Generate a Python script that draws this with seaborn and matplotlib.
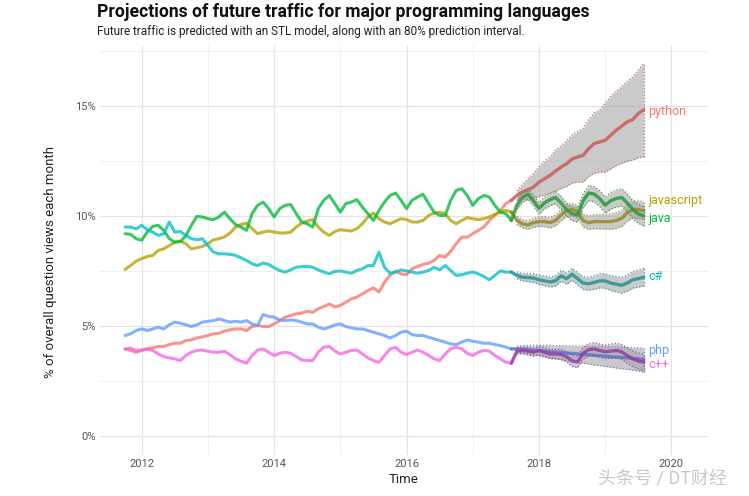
import numpy as np
import pandas as pd
import matplotlib
matplotlib.use("Agg")
import matplotlib.pyplot as plt
import seaborn as sns
from matplotlib.ticker import FuncFormatter, MultipleLocator

# observed monthly share (%), Oct 2011 .. Aug 2017
python_obs = [3.95, 3.88, 3.80, 3.88, 3.95, 4.00, 4.06, 4.06, 4.15, 4.21, 4.21, 4.33, 4.36, 4.45, 4.50, 4.56,
              4.64, 4.66, 4.76, 4.82, 4.86, 4.86, 4.79, 4.97, 5.02, 4.97, 4.97, 5.09, 5.24, 5.40, 5.47, 5.55,
              5.58, 5.66, 5.62, 5.78, 5.88, 6.00, 5.86, 5.93, 6.08, 6.23, 6.31, 6.46, 6.61, 6.73, 6.54, 6.99,
              7.30, 7.50, 7.37, 7.33, 7.60, 7.70, 7.80, 7.86, 7.98, 8.21, 8.13, 8.40, 8.74, 9.04, 9.04, 9.20,
              9.35, 9.50, 9.80, 10.03, 10.26, 10.57, 10.72]
javascript_obs = [7.57, 7.75, 7.95, 8.06, 8.16, 8.21, 8.44, 8.51, 8.66, 8.81, 8.86, 8.74, 8.51, 8.56, 8.62, 8.74,
                  8.92, 8.97, 9.05, 9.23, 9.50, 9.62, 9.68, 9.43, 9.20, 9.27, 9.32, 9.27, 9.23, 9.23, 9.27, 9.50,
                  9.68, 9.77, 9.84, 9.50, 9.27, 9.12, 9.30, 9.38, 9.35, 9.32, 9.43, 9.65, 9.96, 10.14, 9.88, 9.73,
                  9.65, 9.77, 9.88, 9.84, 9.73, 9.73, 9.80, 10.03, 10.14, 10.18, 10.11, 9.80, 9.65, 9.80, 9.93,
                  9.88, 9.84, 9.88, 9.96, 10.08, 10.18, 10.26, 10.18]
java_obs = [9.20, 9.17, 8.97, 8.90, 9.27, 9.53, 9.58, 9.35, 8.97, 8.81, 8.84, 9.10, 9.58, 9.99, 9.96, 9.88,
            9.84, 9.96, 10.18, 9.88, 9.62, 9.50, 9.35, 10.11, 10.49, 10.64, 10.34, 9.96, 10.34, 10.49, 10.53,
            10.11, 9.73, 9.65, 9.50, 10.34, 10.72, 10.94, 10.57, 10.18, 10.57, 10.64, 10.75, 10.41, 10.11, 9.80,
            10.26, 10.64, 10.94, 11.05, 10.72, 10.34, 10.72, 10.87, 10.99, 10.57, 10.18, 10.03, 10.03, 10.72,
            11.17, 11.25, 10.94, 10.49, 10.79, 10.94, 10.87, 10.49, 10.18, 10.11, 9.80]
csharp_obs = [9.50, 9.50, 9.42, 9.58, 9.38, 9.27, 9.12, 9.20, 9.73, 9.27, 9.30, 9.12, 8.97, 8.92, 8.97, 8.66,
              8.36, 8.28, 8.28, 8.26, 8.21, 8.10, 7.98, 7.83, 7.75, 7.86, 7.80, 7.65, 7.52, 7.45, 7.55, 7.67,
              7.70, 7.71, 7.67, 7.55, 7.45, 7.37, 7.48, 7.50, 7.45, 7.40, 7.52, 7.60, 7.75, 7.75, 8.36, 7.67,
              7.40, 7.45, 7.55, 7.50, 7.45, 7.40, 7.45, 7.52, 7.67, 7.55, 7.75, 7.52, 7.30, 7.33, 7.40, 7.45,
              7.37, 7.25, 7.10, 7.30, 7.50, 7.45, 7.45]
php_obs = [4.56, 4.64, 4.79, 4.86, 4.79, 4.86, 4.94, 4.86, 5.05, 5.17, 5.12, 5.05, 4.97, 5.05, 5.17, 5.21,
           5.24, 5.32, 5.24, 5.17, 5.21, 5.17, 5.24, 5.09, 5.02, 5.52, 5.43, 5.40, 5.27, 5.24, 5.27, 5.24,
           5.17, 5.09, 5.09, 4.94, 4.86, 4.94, 5.04, 5.09, 4.97, 4.91, 4.86, 4.86, 4.79, 4.71, 4.64, 4.56,
           4.45, 4.56, 4.71, 4.76, 4.60, 4.56, 4.56, 4.48, 4.41, 4.33, 4.26, 4.18, 4.15, 4.26, 4.36, 4.30,
           4.26, 4.21, 4.21, 4.15, 4.10, 4.03, 3.95]
cpp_obs = [3.95, 3.98, 3.88, 3.90, 3.95, 3.88, 3.72, 3.60, 3.54, 3.50, 3.42, 3.65, 3.80, 3.88, 3.90, 3.84,
           3.80, 3.80, 3.84, 3.69, 3.50, 3.39, 3.30, 3.65, 3.90, 3.95, 3.80, 3.65, 3.75, 3.80, 3.75, 3.60,
           3.45, 3.42, 3.42, 3.80, 4.03, 4.06, 3.86, 3.72, 3.80, 3.88, 3.90, 3.72, 3.54, 3.42, 3.34, 3.65,
           3.95, 4.03, 3.80, 3.69, 3.80, 3.90, 3.80, 3.65, 3.50, 3.42, 3.72, 3.95, 4.03, 3.95, 3.75, 3.65,
           3.80, 3.88, 3.85, 3.65, 3.50, 3.34, 3.30]

# STL forecasts (24 months) with 80% interval
python_fc = [10.94, 11.10, 11.20, 11.32, 11.55, 11.70, 11.85, 12.05, 12.23, 12.38, 12.60, 12.69,
             12.77, 13.07, 13.30, 13.38, 13.45, 13.68, 13.91, 14.10, 14.29, 14.40, 14.67, 14.85]
python_lo = [10.75, 10.80, 10.75, 10.80, 10.90, 10.95, 11.05, 11.15, 11.25, 11.35, 11.50, 11.55,
             11.55, 11.80, 11.95, 12.00, 12.00, 12.15, 12.30, 12.40, 12.50, 12.55, 12.65, 12.70]
python_hi = [11.15, 11.45, 11.70, 11.95, 12.25, 12.50, 12.70, 13.00, 13.20, 13.45, 13.70, 13.85,
             14.00, 14.40, 14.70, 14.85, 15.15, 15.45, 15.70, 15.90, 16.15, 16.35, 16.65, 16.95]
javascript_fc = [9.80, 9.65, 9.60, 9.70, 9.75, 9.75, 9.70, 9.80, 10.05, 10.25, 10.30, 10.20,
                 9.80, 9.70, 9.75, 9.75, 9.75, 9.75, 9.80, 9.90, 10.15, 10.30, 10.30, 10.25]
javascript_lo = [9.62, 9.46, 9.40, 9.49, 9.53, 9.52, 9.46, 9.55, 9.79, 9.98, 10.02, 9.91,
                 9.50, 9.39, 9.43, 9.42, 9.41, 9.40, 9.44, 9.53, 9.77, 9.91, 9.90, 9.84]
javascript_hi = [9.98, 9.84, 9.80, 9.91, 9.97, 9.98, 9.94, 10.05, 10.31, 10.52, 10.58, 10.49,
                 10.10, 10.01, 10.07, 10.08, 10.09, 10.10, 10.16, 10.27, 10.53, 10.69, 10.70, 10.66]
java_fc = [10.50, 10.85, 11.00, 10.70, 10.35, 10.60, 10.75, 10.85, 10.60, 10.30, 10.10, 10.05,
           10.70, 11.05, 11.00, 10.80, 10.50, 10.70, 10.80, 10.85, 10.60, 10.30, 10.10, 10.00]
java_lo = [10.30, 10.62, 10.76, 10.45, 10.09, 10.33, 10.47, 10.56, 10.30, 10.00, 9.79, 9.73,
           10.37, 10.71, 10.65, 10.44, 10.13, 10.32, 10.41, 10.45, 10.19, 9.88, 9.67, 9.56]
java_hi = [10.70, 11.08, 11.24, 10.95, 10.61, 10.87, 11.03, 11.14, 10.90, 10.60, 10.41, 10.37,
           11.03, 11.39, 11.35, 11.16, 10.87, 11.08, 11.19, 11.25, 11.01, 10.72, 10.53, 10.44]
csharp_fc = [7.30, 7.22, 7.20, 7.18, 7.10, 7.05, 7.00, 7.05, 7.28, 7.15, 7.35, 7.15,
             6.95, 6.92, 6.98, 7.05, 7.05, 6.95, 6.90, 6.85, 6.95, 7.10, 7.15, 7.22]
csharp_lo = [7.15, 7.05, 7.02, 6.98, 6.89, 6.83, 6.77, 6.81, 7.03, 6.89, 7.08, 6.87,
             6.66, 6.62, 6.67, 6.73, 6.72, 6.61, 6.55, 6.49, 6.58, 6.72, 6.76, 6.82]
csharp_hi = [7.45, 7.39, 7.38, 7.38, 7.31, 7.27, 7.23, 7.29, 7.53, 7.41, 7.62, 7.43,
             7.24, 7.22, 7.29, 7.37, 7.38, 7.29, 7.25, 7.21, 7.32, 7.48, 7.54, 7.62]
php_fc = [3.95, 3.93, 3.91, 3.89, 3.88, 3.85, 3.83, 3.81, 3.78, 3.76, 3.75, 3.72,
          3.70, 3.69, 3.66, 3.64, 3.62, 3.60, 3.58, 3.56, 3.55, 3.52, 3.50, 3.47]
php_lo = [3.82, 3.77, 3.72, 3.68, 3.64, 3.59, 3.55, 3.51, 3.46, 3.42, 3.39, 3.34,
          3.30, 3.27, 3.22, 3.19, 3.15, 3.12, 3.08, 3.05, 3.02, 2.98, 2.95, 2.90]
php_hi = [4.08, 4.10, 4.11, 4.12, 4.12, 4.11, 4.11, 4.10, 4.10, 4.09, 4.09, 4.08,
          4.08, 4.07, 4.06, 4.06, 4.05, 4.04, 4.04, 4.03, 4.02, 4.01, 4.00, 3.98]
cpp_fc = [3.85, 3.88, 3.85, 3.80, 3.88, 3.80, 3.72, 3.72, 3.70, 3.60, 3.40, 3.36,
          3.75, 3.92, 3.95, 3.88, 3.82, 3.85, 3.88, 3.82, 3.65, 3.50, 3.40, 3.35]
cpp_lo = [3.72, 3.73, 3.68, 3.62, 3.69, 3.60, 3.51, 3.50, 3.47, 3.36, 3.15, 3.10,
          3.48, 3.64, 3.66, 3.58, 3.51, 3.53, 3.55, 3.48, 3.30, 3.14, 3.03, 2.97]
cpp_hi = [3.98, 4.03, 4.02, 3.98, 4.07, 4.00, 3.93, 3.94, 3.93, 3.84, 3.65, 3.62,
          4.02, 4.20, 4.24, 4.18, 4.13, 4.17, 4.21, 4.16, 4.00, 3.86, 3.77, 3.73]

languages = ["python", "javascript", "java", "c#", "php", "c++"]
obs = [python_obs, javascript_obs, java_obs, csharp_obs, php_obs, cpp_obs]
fc = [python_fc, javascript_fc, java_fc, csharp_fc, php_fc, cpp_fc]
lo = [python_lo, javascript_lo, java_lo, csharp_lo, php_lo, cpp_lo]
hi = [python_hi, javascript_hi, java_hi, csharp_hi, php_hi, cpp_hi]

colors = ["#F8766D", "#B79F00", "#00BA38", "#00BFC4", "#619CFF", "#F564E3"]
dark = ["#C8605A", "#9C8A2E", "#2E9A42", "#2A9496", "#5C78C8", "#9A3FA8"]
label_y = [14.78, 10.70, 9.90, 7.25, 3.88, 3.22]

obs_dates = pd.date_range("2011-10-01", periods=len(python_obs), freq="MS")
fc_dates = pd.date_range("2017-09-01", periods=len(python_fc), freq="MS")


def dec_year(d):
    return d.year + (d.month - 1) / 12.0


t_obs = dec_year(obs_dates)
t_fc = dec_year(fc_dates)

df_obs = pd.concat([pd.DataFrame({"year": t_obs, "pct": v, "language": n})
                    for n, v in zip(languages, obs)], ignore_index=True)
# forecast line starts from the last observed point so the curve is continuous
df_fc = pd.concat([pd.DataFrame({"year": np.r_[t_obs[-1], t_fc], "pct": np.r_[o[-1], f], "language": n})
                   for n, o, f in zip(languages, obs, fc)], ignore_index=True)

sns.set_theme(style="whitegrid")
plt.rcParams["font.family"] = ["Roboto", "Noto Sans CJK SC", "DejaVu Sans"]

fig = plt.figure(figsize=(7.49, 4.96), dpi=100)
ax = fig.add_axes([0.1335, 0.0827, 0.8115, 0.826])

sns.lineplot(data=df_obs, x="year", y="pct", hue="language", palette=dict(zip(languages, colors)),
             lw=2.2, alpha=0.78, legend=False, ax=ax, zorder=3)

for i, n in enumerate(languages):
    ax.fill_between(t_fc, lo[i], hi[i], color="#A8A8A8", alpha=0.6, lw=0, zorder=4)

sns.lineplot(data=df_fc, x="year", y="pct", hue="language", palette=dict(zip(languages, dark)),
             lw=2.4, alpha=0.88, legend=False, ax=ax, zorder=5)

for i, n in enumerate(languages):
    for edge in (lo[i], hi[i]):
        ax.plot(t_fc, edge, ls=(0, (1, 1.6)), lw=0.9, color=dark[i], alpha=0.9, zorder=6)
    ax.plot([t_fc[-1], t_fc[-1]], [lo[i][-1], hi[i][-1]], ls=(0, (1, 1.6)), lw=0.9,
            color=dark[i], alpha=0.9, zorder=6)
    ax.text(t_fc[-1] + 0.07, label_y[i], n, color=colors[i], fontsize=9,
            va="center", ha="left", zorder=7)

ax.set_xlim(2011.37, 2020.55)
ax.set_ylim(-0.88, 17.78)
ax.xaxis.set_major_locator(MultipleLocator(2))
ax.xaxis.set_minor_locator(MultipleLocator(1))
ax.yaxis.set_major_locator(MultipleLocator(5))
ax.yaxis.set_minor_locator(MultipleLocator(2.5))
ax.yaxis.set_major_formatter(FuncFormatter(lambda v, p: f"{v:.0f}%"))
ax.xaxis.set_major_formatter(FuncFormatter(lambda v, p: f"{v:.0f}"))

ax.set_facecolor("white")
for s in ax.spines.values():
    s.set_visible(False)
ax.grid(which="major", color="#E3E3E3", lw=0.9)
ax.grid(which="minor", color="#EEEEEE", lw=0.6)
ax.tick_params(which="both", length=0, labelsize=8, labelcolor="#555555", pad=3)

ax.set_xlabel("Time", fontsize=9.5, color="#222222", labelpad=3)
ax.set_ylabel("% of overall question views each month", fontsize=9.5, color="#222222")
ax.yaxis.set_label_coords(-0.07, 0.47)

fig.text(0.1295, 0.975, "Projections of future traffic for major programming languages",
         fontsize=12.7, fontweight="bold", color="#111111", va="center", ha="left")
fig.text(0.1295, 0.9375, "Future traffic is predicted with an STL model, along with an 80% prediction interval.",
         fontsize=8.5, color="#222222", va="center", ha="left")
fig.text(0.798, 0.035, "头条号 / DT财经", fontsize=13, color="#C8C8C8", va="center", ha="left")

fig.savefig("out.png", dpi=100, facecolor="white")
